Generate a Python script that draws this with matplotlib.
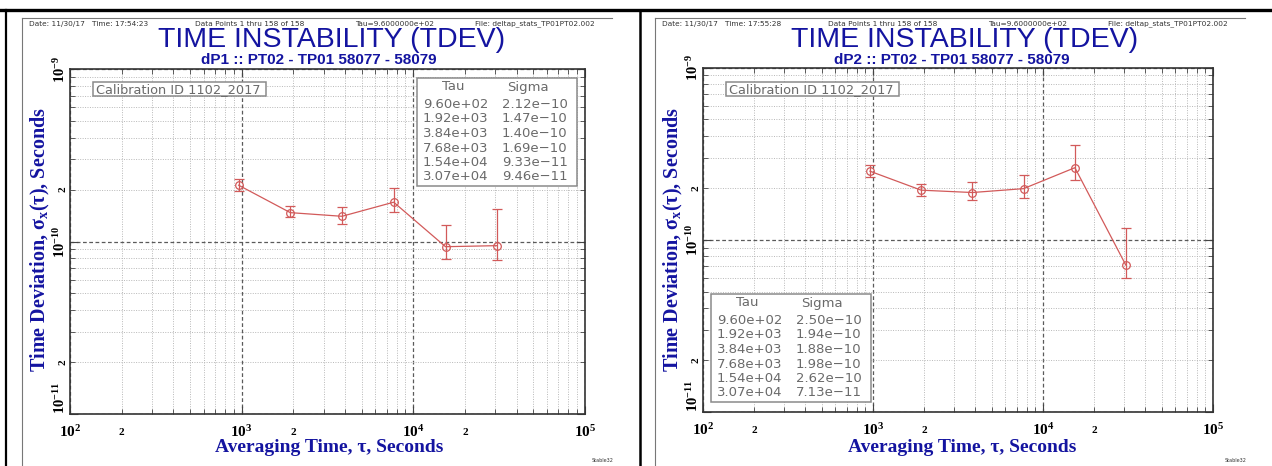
import math
import numpy as np
import matplotlib
matplotlib.use('Agg')
import matplotlib.pyplot as plt
from matplotlib.lines import Line2D
from matplotlib.patches import Rectangle
from matplotlib.ticker import FixedLocator, FuncFormatter

# ---- data ----
TAU = [9.60e2, 1.92e3, 3.84e3, 7.68e3, 1.54e4, 3.07e4]

SIGMA_P1 = [2.12e-10, 1.47e-10, 1.40e-10, 1.69e-10, 9.33e-11, 9.46e-11]
LO_P1 = [1.97e-10, 1.38e-10, 1.26e-10, 1.49e-10, 7.88e-11, 7.81e-11]
HI_P1 = [2.30e-10, 1.61e-10, 1.59e-10, 2.05e-10, 1.25e-10, 1.54e-10]

SIGMA_P2 = [2.50e-10, 1.94e-10, 1.88e-10, 1.98e-10, 2.62e-10, 7.13e-11]
LO_P2 = [2.31e-10, 1.80e-10, 1.71e-10, 1.74e-10, 2.23e-10, 6.00e-11]
HI_P2 = [2.70e-10, 2.11e-10, 2.17e-10, 2.39e-10, 3.54e-10, 1.17e-10]

NAMES = ['dP1', 'dP2']
TIMES = ['17:54:23', '17:55:28']

X_DECADES = [2, 3, 4, 5]        # 10^2 .. 10^5
Y_DECADES = [-11, -10, -9]      # 10^-11 .. 10^-9

W, H = 1272, 466
BLUE = '#1414a0'
RED = '#d25a5a'
GRAY_TXT = '#6a6a6a'

plt.rcParams.update({
    'font.family': 'Liberation Serif',
    'font.weight': 'bold',
    'mathtext.fontset': 'custom',
    'mathtext.rm': 'Liberation Serif:bold',
    'mathtext.it': 'Liberation Serif:italic:bold',
    'mathtext.bf': 'Liberation Serif:bold',
})

fig = plt.figure(figsize=(W / 100, H / 100), dpi=100)


def fx(px):
    return px / W


def fy(py):
    return 1 - py / H


def ptext(x, y, s, **kw):
    return fig.text(fx(x), fy(y), s, **kw)


def major_fmt(v, pos):
    return r'$10^{%d}$' % int(round(math.log10(v)))


def minor_fmt(v, pos):
    m = v / 10 ** math.floor(math.log10(v) + 1e-9)
    return '2' if abs(m - 2) < 0.01 else ''


def log_ticks(decades):
    major = [10.0 ** d for d in decades]
    minor = [m * 10.0 ** d for d in decades[:-1] for m in range(2, 10)]
    return major, minor


def draw_panel(dx, axrect, name, tstr, sigma, lo, hi, tbox):
    # outer gray frame of the Stable32 page
    fig.add_artist(Line2D([fx(22 + dx), fx(22 + dx)], [fy(18), fy(H)],
                          transform=fig.transFigure, color='#777777', lw=0.8))
    fig.add_artist(Line2D([fx(22 + dx), fx(612 + dx)], [fy(18), fy(18)],
                          transform=fig.transFigure, color='#777777', lw=0.8))

    hdr = dict(family='DejaVu Sans', fontweight='normal', size=5.3, color='#333333',
               va='center', ha='left')
    ptext(29 + dx, 24, f'Date: 11/30/17   Time: {tstr}', **hdr)
    ptext(195 + dx, 24, 'Data Points 1 thru 158 of 158', **hdr)
    ptext(355 + dx, 24, 'Tau=9.6000000e+02', **hdr)
    ptext(475 + dx, 24, 'File: deltap_stats_TP01PT02.002', **hdr)

    ptext(332 + dx, 40, 'TIME INSTABILITY (TDEV)', family='Liberation Sans',
          fontweight='normal', size=20.5, color=BLUE, ha='center', va='center')
    ptext(319 + dx, 60.5, f'{name} :: PT02 - TP01 58077 - 58079', family='Liberation Sans',
          fontweight='bold', size=11, color=BLUE, ha='center', va='center')

    ax = fig.add_axes(axrect)
    ax.set_xscale('log')
    ax.set_yscale('log')
    xmaj, xmin = log_ticks(X_DECADES)
    ymaj, ymin = log_ticks(Y_DECADES)
    ax.set_xlim(xmaj[0], xmaj[-1])
    ax.set_ylim(ymaj[0], ymaj[-1])
    for axis, maj, mnr in ((ax.xaxis, xmaj, xmin), (ax.yaxis, ymaj, ymin)):
        axis.set_major_locator(FixedLocator(maj))
        axis.set_minor_locator(FixedLocator(mnr))
        axis.set_major_formatter(FuncFormatter(major_fmt))
        axis.set_minor_formatter(FuncFormatter(minor_fmt))

    ax.grid(which='major', color='#5a5a5a', ls=(0, (3, 2)), lw=0.9)
    ax.grid(which='minor', color='#b8b8b8', ls=(0, (1, 1.5)), lw=0.7)
    ax.set_axisbelow(True)

    ax.tick_params(which='both', direction='in', top=True, right=True, colors='#444444')
    ax.tick_params(which='both', labelcolor='black')
    ax.tick_params(which='major', length=6, width=0.8)
    ax.tick_params(which='minor', length=3.5, width=0.6)
    ax.tick_params(axis='x', which='major', labelsize=11, pad=7)
    ax.tick_params(axis='x', which='minor', labelsize=8, pad=10)
    ax.tick_params(axis='y', which='both', labelrotation=90, pad=1.5)
    ax.tick_params(axis='y', which='major', labelsize=10.5)
    ax.tick_params(axis='y', which='minor', labelsize=8)
    ylabs = ax.get_yticklabels(which='major')
    for lab in ax.get_yticklabels(which='both'):
        lab.set_va('center')
    # lowest decade label sits above its tick, clear of the x labels
    ylabs[0].set_va('bottom')
    for sp in ax.spines.values():
        sp.set_color('#333333')
        sp.set_linewidth(1.2)

    sig = np.array(sigma)
    yerr = [sig - np.array(lo), np.array(hi) - sig]
    ax.errorbar(TAU, sig, yerr=yerr, fmt='-o', color=RED, mfc='none', mec=RED,
                ms=5.5, mew=0.9, lw=0.9, elinewidth=0.9, capsize=3.5, capthick=0.9,
                zorder=3)

    # axis titles
    ptext(329 + dx, 447, 'Averaging Time, τ, Seconds', size=14, color=BLUE,
          ha='center', va='center')
    ptext(40 + dx, 240, r'Time Deviation, σ$_{\mathbf{x}}$(τ), Seconds', size=14.5,
          color=BLUE, ha='center', va='center', rotation=90)

    # calibration label
    fig.add_artist(Rectangle((fx(93 + dx), fy(96)), 173 / W, 14 / H,
                             transform=fig.transFigure, fc='white', ec='#8a8a8a', lw=1.1))
    ptext(96 + dx, 89.5, 'Calibration ID 1102_2017', family='DejaVu Sans',
          fontweight='normal', size=9.3, color=GRAY_TXT, ha='left', va='center')

    # tau / sigma table
    x0, y0 = tbox
    fig.add_artist(Rectangle((fx(x0), fy(y0 + 108)), 160 / W, 108 / H,
                             transform=fig.transFigure, fc='white', ec='#8a8a8a', lw=1.1))
    tk = dict(family='DejaVu Sans', fontweight='normal', size=9.5, color=GRAY_TXT,
              va='center')
    ptext(x0 + 36, y0 + 9, 'Tau', ha='center', **tk)
    ptext(x0 + 111, y0 + 9, 'Sigma', ha='center', **tk)
    for i, (t, s) in enumerate(zip(TAU, sigma)):
        yy = y0 + 26.5 + i * 14.5
        ptext(x0 + 6, yy, f'{t:.2e}', ha='left', **tk)
        ptext(x0 + 85, yy, f'{s:.2e}'.replace('-', '\u2212'), ha='left', **tk)

    ptext(592 + dx, 461, 'Stable32', family='DejaVu Sans', fontweight='normal',
          size=3.5, color='#333333', ha='left', va='center')
    return ax


draw_panel(0, [fx(70), fy(414), 515 / W, 345 / H], NAMES[0], TIMES[0],
           SIGMA_P1, LO_P1, HI_P1, (417, 78))
draw_panel(633, [fx(703), fy(412), 510 / W, 344.5 / H], NAMES[1], TIMES[1],
           SIGMA_P2, LO_P2, HI_P2, (711, 294))

# table cell borders of the page the plots sit in
fig.add_artist(Line2D([0, 1], [fy(10), fy(10)], transform=fig.transFigure, color='black', lw=2.4))
fig.add_artist(Line2D([fx(6), fx(6)], [fy(10), 0], transform=fig.transFigure, color='black', lw=1.6))
fig.add_artist(Line2D([fx(640), fx(640)], [fy(10), 0], transform=fig.transFigure, color='black', lw=1.8))

fig.savefig('out.png', dpi=100, facecolor='white')
